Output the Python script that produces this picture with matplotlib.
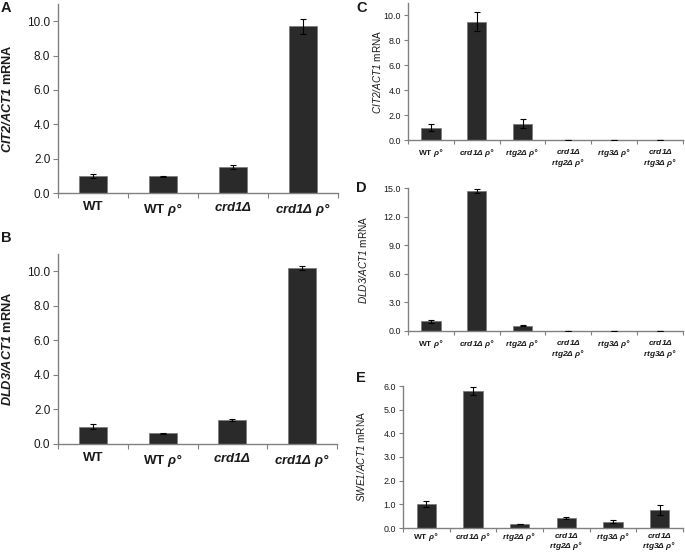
import matplotlib
matplotlib.use("Agg")
import matplotlib.pyplot as plt
import numpy as np

plt.rcParams['font.family'] = ['Liberation Sans', 'DejaVu Sans']
plt.rcParams['mathtext.fontset'] = 'custom'
plt.rcParams['mathtext.rm'] = 'Liberation Sans:italic:bold'
plt.rcParams['mathtext.it'] = 'Liberation Sans:italic:bold'
plt.rcParams['mathtext.bf'] = 'Liberation Sans:italic:bold'
plt.rcParams['mathtext.sf'] = 'Liberation Sans:italic'

# ---- data ----
ab_labels = ["WT", r"WT $ρ°$", r"$crd1Δ$", r"$crd1Δ\ ρ°$"]
cde_labels = [r"WT $ρ°$", r"$crd1Δ\ ρ°$", r"$rtg2Δ\ ρ°$",
              "$crd1Δ$\n$rtg2Δ\\ ρ°$", r"$rtg3Δ\ ρ°$",
              "$crd1Δ$\n$rtg3Δ\\ ρ°$"]

a_vals = [1.00, 0.97, 1.52, 9.70]
a_err = [0.10, 0.03, 0.13, 0.45]
b_vals = [1.00, 0.62, 1.40, 10.20]
b_err = [0.15, 0.03, 0.05, 0.10]
c_vals = [1.00, 9.50, 1.30, 0.02, 0.02, 0.02]
c_err = [0.25, 0.75, 0.35, 0.00, 0.00, 0.00]
d_vals = [1.00, 14.70, 0.55, 0.05, 0.02, 0.04]
d_err = [0.20, 0.20, 0.05, 0.00, 0.00, 0.00]
e_vals = [1.00, 5.80, 0.17, 0.42, 0.27, 0.75]
e_err = [0.13, 0.17, 0.02, 0.04, 0.05, 0.22]

a_ticks = [0.0, 2.0, 4.0, 6.0, 8.0, 10.0]
c_ticks = [0.0, 2.0, 4.0, 6.0, 8.0, 10.0]
d_ticks = [0.0, 3.0, 6.0, 9.0, 12.0, 15.0]
e_ticks = [0.0, 1.0, 2.0, 3.0, 4.0, 5.0, 6.0]

W, H = 685, 552
fig = plt.figure(figsize=(W / 100, H / 100), dpi=100)

def px_axes(left, right, top, bottom):
    return fig.add_axes([left / W, 1 - bottom / H, (right - left) / W, (bottom - top) / H])

GRAY = '#808080'
BAR = '#2a2a2a'
TXT = '#1a1a1a'

def panel(ax, vals, errs, labels, ticks, ylim, ylabel, letter, big, letter_xy, bw,
          label_x, xpad, lsp=1.15):
    n = len(vals)
    x = np.arange(n)
    ax.bar(x, vals, width=bw, color=BAR, edgecolor='#777777', linewidth=0.5, zorder=2)
    ax.errorbar(x, vals, yerr=errs, fmt='none', ecolor='black', elinewidth=0.8,
                capsize=2.5 if big else 2.2, capthick=0.8, zorder=3)
    ax.set_xlim(-0.5, n - 0.5)
    ax.set_ylim(*ylim)
    for s in ['top', 'right']:
        ax.spines[s].set_visible(False)
    for s in ['left', 'bottom']:
        ax.spines[s].set_color(GRAY)
        ax.spines[s].set_linewidth(1.0)
    ax.set_yticks(ticks)
    ax.set_yticklabels([f"{t:.1f}" for t in ticks], fontsize=8.5 if big else 6.4, color=TXT)
    ax.set_xticks(x)
    ax.set_xticklabels(labels, fontsize=9.5 if big else 6.0, fontweight='bold', color=TXT,
                       linespacing=lsp)
    ax.set_xticks(np.arange(-0.5, n, 1.0), minor=True)
    ax.tick_params(axis='x', which='major', length=0, pad=xpad)
    ax.tick_params(axis='x', which='minor', length=3.5 if big else 3, color=GRAY, width=0.8)
    ax.tick_params(axis='y', length=3.5 if big else 3, color=GRAY, width=0.8, pad=2)
    ax.set_ylabel(ylabel, fontsize=9.2 if big else 7.2,
                  fontweight='bold' if big else 'normal', color=TXT)
    ax.yaxis.set_label_coords(label_x, 0.5)
    fig.text(letter_xy[0] / W, 1 - letter_xy[1] / H, letter, fontsize=10.5, fontweight='bold',
             ha='left', va='center', color=TXT)

axA = px_axes(58, 338, 4, 193)
panel(axA, a_vals, a_err, ab_labels, a_ticks, (0, 11), r"$CIT2/ACT1$ mRNA", "A", True,
      (1, 8), 0.4, (14 - 58) / 280, 6)
axB = px_axes(58, 337, 254, 444)
panel(axB, b_vals, b_err, ab_labels, a_ticks, (0, 11), r"$DLD3/ACT1$ mRNA", "B", True,
      (1, 238), 0.4, (14 - 58) / 279, 6)
axC = px_axes(408, 683, 3, 140)
panel(axC, c_vals, c_err, cde_labels, c_ticks, (0, 11), r"$\mathsf{CIT2/ACT1}$ mRNA", "C", False,
      (356, 8), 0.42, (383 - 408) / 275, 5)
axD = px_axes(408, 683, 188, 331)
panel(axD, d_vals, d_err, cde_labels, d_ticks, (0, 15), r"$\mathsf{DLD3/ACT1}$ mRNA", "D", False,
      (356, 188), 0.42, (369 - 408) / 275, 5)
axE = px_axes(403, 683, 386, 528)
panel(axE, e_vals, e_err, cde_labels, e_ticks, (0, 6), r"$\mathsf{SWE1/ACT1}$ mRNA", "E", False,
      (356, 378.5), 0.42, (367 - 403) / 280, 2.5, lsp=0.95)

fig.savefig("out.png", dpi=100)
